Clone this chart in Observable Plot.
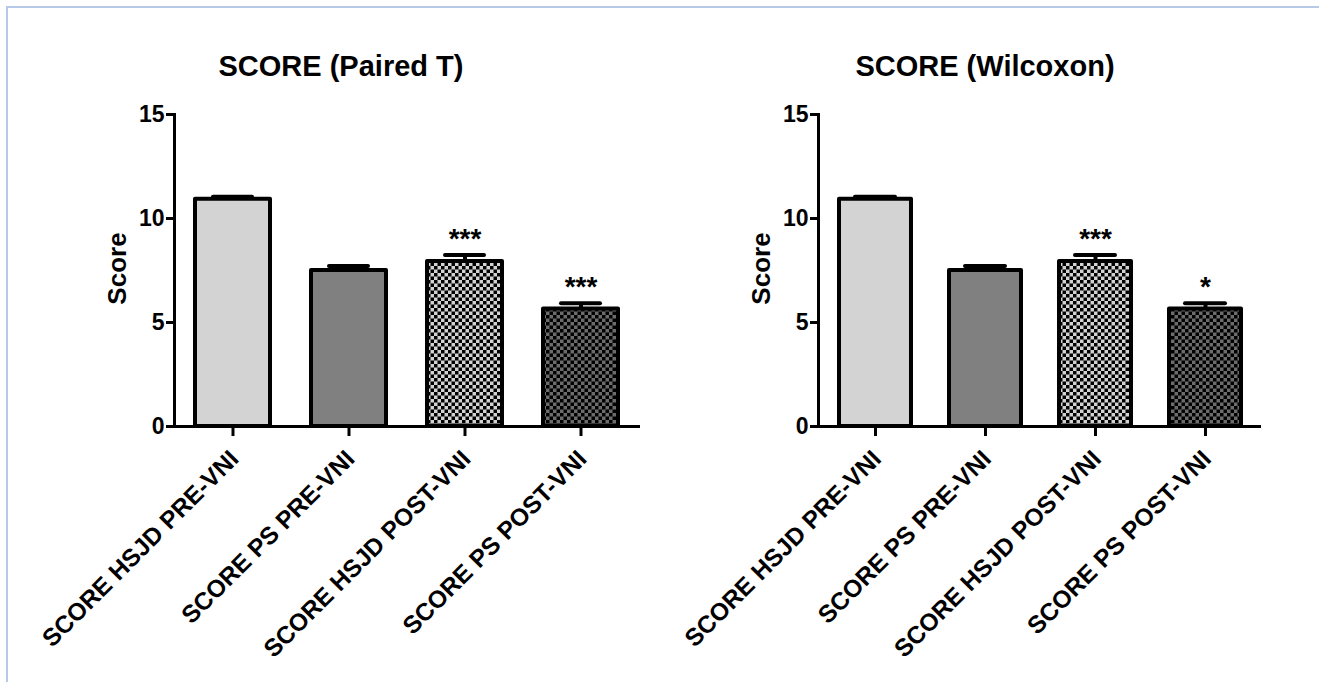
<!DOCTYPE html>
<html>
<head>
<meta charset="utf-8">
<script src="https://cdn.jsdelivr.net/npm/d3@7"></script>
<script src="https://cdn.jsdelivr.net/npm/@observablehq/plot@0.6"></script>
<style>
  html, body { margin: 0; padding: 0; background: #fff; }
  #page { position: relative; width: 1319px; height: 682px; overflow: hidden; background: #fff;
          font-family: "Liberation Sans", Arial, sans-serif; }
  #border { position: absolute; left: 6px; top: 6px; right: -10px; bottom: -10px;
            border-top: 2px solid #b7c9e6; border-left: 2px solid #b7c9e6; }
  .title { position: absolute; width: 420px; text-align: center; font-weight: bold;
           font-size: 29px; line-height: 29px; color: #000; }
  .panel { position: absolute; top: 0; }
  .panel svg { overflow: visible; }
</style>
</head>
<body>
<div id="page">
  <div id="border"></div>
  <svg width="0" height="0" style="position:absolute">
    <defs>
      <pattern id="chkL" width="7" height="7" patternUnits="userSpaceOnUse">
        <rect width="7" height="7" fill="#d2d2d2"/>
        <rect width="3.5" height="3.5" fill="#000"/>
        <rect x="3.5" y="3.5" width="3.5" height="3.5" fill="#000"/>
      </pattern>
      <pattern id="chkD" width="7" height="7" patternUnits="userSpaceOnUse">
        <rect width="7" height="7" fill="#6c6c6c"/>
        <rect width="3.5" height="3.5" fill="#000"/>
        <rect x="3.5" y="3.5" width="3.5" height="3.5" fill="#000"/>
      </pattern>
    </defs>
  </svg>
  <div class="title" id="t1"></div>
  <div class="title" id="t2"></div>
  <div class="panel" id="p1"></div>
  <div class="panel" id="p2"></div>
</div>
<script>
// ---- data ----
const categories = ["SCORE HSJD PRE-VNI", "SCORE PS PRE-VNI", "SCORE HSJD POST-VNI", "SCORE PS POST-VNI"];
const means = [10.92, 7.50, 7.93, 5.65];
const errors = [0.12, 0.22, 0.31, 0.28];
const starsPairedT = ["", "", "***", "***"];
const starsWilcoxon = ["", "", "***", "*"];
const yTicks = [0, 5, 10, 15];
const titles = ["SCORE (Paired T)", "SCORE (Wilcoxon)"];
const yLabel = "Score";
const barFills = ["#d3d3d3", "#808080", "url(#chkL)", "url(#chkD)"];

const FONT = '"Liberation Sans", Arial, sans-serif';

function panel({width, marginLeft, marginRight, stars, capInset}) {
  const rows = categories.map((c, i) => ({name: c, mean: means[i], err: errors[i], top: means[i] + errors[i], star: stars[i]}));
  const barMarks = rows.map((r, i) => Plot.barY([r], {
    x: "name", y: "mean", fill: barFills[i], stroke: "#000", strokeWidth: 4, strokeLinejoin: "round"
  }));
  return Plot.plot({
    width, height: 682,
    marginLeft, marginRight, marginTop: 114, marginBottom: 256,
    style: {fontFamily: FONT, background: "transparent", color: "#000", overflow: "visible"},
    x: {type: "band", domain: categories, paddingInner: 0.35, paddingOuter: 0.175, axis: null},
    y: {domain: [0, 15], axis: null},
    marks: [
      ...barMarks,
      Plot.ruleX(rows, {x: "name", y1: "mean", y2: "top", stroke: "#000", strokeWidth: 4}),
      Plot.tickY(rows, {x: "name", y: "top", stroke: "#000", strokeWidth: 4, strokeLinecap: "round",
                        insetLeft: capInset, insetRight: capInset}),
      Plot.text(rows, {x: "name", y: "top", text: "star", lineAnchor: "bottom", dy: -7,
                       fontSize: 28, fontWeight: "bold", fill: "#000"}),
      Plot.ruleY([0], {stroke: "#000", strokeWidth: 3}),
      Plot.frame({anchor: "left", stroke: "#000", strokeWidth: 3}),
      Plot.axisY({ticks: yTicks, tickSize: 8, tickPadding: 2, fontSize: 23, fontWeight: "bold",
                  strokeWidth: 3, label: null}),
      Plot.axisX({tickSize: 10, tickFormat: () => "", strokeWidth: 3, label: null}),
      Plot.text(categories, {x: d => d, frameAnchor: "bottom", rotate: -45, textAnchor: "end",
                             lineAnchor: "bottom", dx: 7, dy: 34, fontSize: 24.5, fontWeight: "bold", fill: "#000"}),
      Plot.text([yLabel], {frameAnchor: "left", textAnchor: "middle", lineAnchor: "middle", rotate: -90, dx: -57, dy: -2,
                           fontSize: 26, fontWeight: "bold", fill: "#000"})
    ]
  });
}

document.getElementById("p1").appendChild(panel({width: 660, marginLeft: 174, marginRight: 20, stars: starsPairedT, capInset: 18}));
const p2 = document.getElementById("p2");
p2.style.left = "660px";
p2.appendChild(panel({width: 659, marginLeft: 158, marginRight: 58, stars: starsWilcoxon, capInset: 16}));

const t1 = document.getElementById("t1");
t1.textContent = titles[0];
t1.style.left = (341 - 210) + "px"; t1.style.top = "52px";
const t2 = document.getElementById("t2");
t2.textContent = titles[1];
t2.style.left = (985 - 210) + "px"; t2.style.top = "52px";
</script>
</body>
</html>
